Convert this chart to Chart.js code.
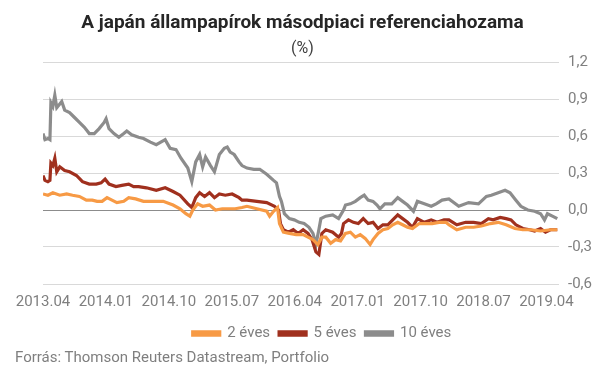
<!DOCTYPE html>
<html>
<head>
<meta charset="utf-8">
<script src="https://cdn.jsdelivr.net/npm/chart.js@4.4.1/dist/chart.umd.min.js"></script>
<style>
  html, body { margin: 0; padding: 0; background: #fff; }
  #wrap { position: relative; width: 605px; height: 378px; }
  #source { position: absolute; left: 15px; top: 348px; font-family: Roboto, sans-serif; font-size: 15px; line-height: 18px; color: #7f7f7f; }
</style>
</head>
<body>
<div id="wrap">
  <canvas id="c" width="605" height="378"></canvas>
  <div id="source">Forrás: Thomson Reuters Datastream, Portfolio</div>
</div>
<script>
const chartTitle = "A japán állampapírok másodpiaci referenciahozama";
const chartSubtitle = "(%)";
// x positions are months elapsed since 2013.04
const xTickMonths = [0, 9, 18, 27, 36, 45, 54, 63, 72];
const xTickLabels = ["2013.04", "2014.01", "2014.10", "2015.07", "2016.04", "2017.01", "2017.10", "2018.07", "2019.04"];
const yTicks = [-0.6, -0.3, 0, 0.3, 0.6, 0.9, 1.2];
const seriesNames = ["2 éves", "5 éves", "10 éves"];

const t2 = [0,0.7,1.41,2.4,3.38,4.23,5.21,6.2,7.05,7.75,8.45,9.16,9.86,10.57,11.55,12.26,13.25,14.37,15.78,17.19,18.6,19.59,20.43,21,21.42,22.12,22.83,23.81,24.66,25.64,26.63,27.48,28.46,29.17,30.58,31.99,32.41,32.97,33.54,33.82,34.38,35.23,36.21,37.2,37.9,38.61,39.31,39.88,40.44,41.14,41.85,42.55,43.26,43.96,44.67,45.37,46.07,46.78,47.2,47.91,48.61,49.32,50.02,50.73,51.43,52.13,52.84,53.82,54.81,55.66,56.64,57.63,58.05,59.18,60.45,61.58,62.7,63.97,65.1,66.23,67.49,68.62,69.75,71.16,72.57,73.55];
const v2 = [0.13,0.12,0.14,0.12,0.13,0.12,0.11,0.08,0.08,0.07,0.07,0.10,0.08,0.06,0.07,0.10,0.09,0.07,0.07,0.07,0.04,0.01,-0.03,-0.05,0.0,0.05,0.03,0.04,0.0,0.01,0.01,0.01,0.02,0.03,0.01,-0.01,-0.05,-0.01,0.02,-0.11,-0.18,-0.19,-0.20,-0.20,-0.22,-0.24,-0.28,-0.22,-0.22,-0.27,-0.24,-0.25,-0.19,-0.18,-0.22,-0.20,-0.23,-0.28,-0.24,-0.19,-0.16,-0.15,-0.12,-0.10,-0.12,-0.14,-0.15,-0.11,-0.11,-0.11,-0.10,-0.10,-0.12,-0.16,-0.14,-0.14,-0.13,-0.11,-0.10,-0.12,-0.15,-0.16,-0.16,-0.17,-0.16,-0.16];

const t5 = [0,0.28,0.7,0.99,1.13,1.41,1.69,1.97,2.4,3.1,3.8,4.79,5.64,6.62,7.61,8.31,8.88,9.44,10.43,11.27,12.26,12.96,13.67,14.8,16.2,17.47,18.6,19.59,20.71,21.28,21.84,22.4,23.11,23.81,24.52,25.22,26.07,27.05,28.04,28.46,29.17,30.58,31.99,33.11,33.68,33.96,34.38,35.09,35.79,36.49,37.2,37.9,38.47,39.03,39.45,39.88,40.44,41.43,42.27,42.69,42.98,43.68,44.39,45.09,45.8,46.5,47.2,47.91,48.61,49.32,50.02,50.73,51.43,52.13,52.84,53.54,54.53,55.52,56.36,57.35,58.05,59.18,60.45,61.58,62.7,63.69,64.39,65.38,66.23,66.93,67.63,68.62,69.61,70.31,71.16,71.86,72.57,73.55];
const v5 = [0.28,0.24,0.23,0.24,0.38,0.36,0.42,0.31,0.35,0.32,0.31,0.28,0.23,0.21,0.21,0.22,0.25,0.21,0.19,0.20,0.21,0.19,0.19,0.18,0.16,0.18,0.15,0.12,0.05,0.02,0.10,0.14,0.11,0.14,0.10,0.13,0.12,0.13,0.10,0.08,0.08,0.07,0.06,0.03,0.0,-0.11,-0.16,-0.18,-0.16,-0.19,-0.16,-0.19,-0.24,-0.34,-0.36,-0.19,-0.16,-0.18,-0.22,-0.19,-0.11,-0.08,-0.10,-0.11,-0.07,-0.11,-0.10,-0.15,-0.12,-0.12,-0.08,-0.04,-0.07,-0.10,-0.14,-0.07,-0.10,-0.08,-0.10,-0.08,-0.08,-0.12,-0.10,-0.10,-0.11,-0.07,-0.08,-0.06,-0.07,-0.08,-0.12,-0.15,-0.16,-0.17,-0.15,-0.18,-0.16,-0.16];

const t10 = [0,0.28,0.7,0.99,1.13,1.41,1.69,1.97,2.4,2.68,3.1,3.8,4.51,5.21,5.92,6.62,7.33,8.03,8.74,9.02,9.44,10.15,10.85,11.55,11.98,12.68,13.67,14.37,15.36,16.2,17.47,18.18,19.02,19.73,20.71,21.28,21.84,22.4,22.83,23.25,23.95,24.52,25.22,25.93,26.35,26.77,27.34,28.04,28.46,29.17,30.15,31,31.99,32.97,33.39,33.82,34.1,34.52,35.23,35.93,36.64,37.34,38.04,38.61,39.03,39.45,39.74,40.44,41.43,42.27,42.98,43.26,43.96,44.67,45.37,45.94,46.5,47.2,47.77,48.19,48.89,49.88,50.73,51.43,52.13,52.98,53.54,54.53,55.52,56.22,57.07,58.05,59.46,60.87,62.28,63.41,64.11,65.1,66.08,66.79,67.63,68.34,69.33,70.31,71.16,71.72,72.14,72.85,73.55];
const v10 = [0.62,0.57,0.58,0.57,0.87,0.84,0.93,0.83,0.86,0.88,0.81,0.79,0.75,0.71,0.67,0.62,0.62,0.66,0.71,0.74,0.66,0.62,0.59,0.62,0.64,0.61,0.59,0.58,0.55,0.53,0.57,0.50,0.49,0.42,0.34,0.23,0.39,0.45,0.35,0.43,0.36,0.31,0.45,0.50,0.51,0.47,0.45,0.39,0.36,0.34,0.33,0.33,0.29,0.24,0.22,0.11,0.07,-0.03,-0.07,-0.08,-0.10,-0.11,-0.14,-0.19,-0.28,-0.16,-0.07,-0.05,-0.04,-0.07,0.0,0.04,0.05,0.07,0.10,0.12,0.08,0.07,0.04,0.01,0.05,0.05,0.10,0.07,0.04,-0.01,0.07,0.05,0.03,0.05,0.08,0.09,0.03,0.06,0.05,0.11,0.12,0.14,0.16,0.14,0.08,0.03,0.0,-0.01,-0.03,-0.08,-0.03,-0.05,-0.07];

const colors = ["#f79a45", "#a0301e", "#8c8c8c"];

function pts(t, v) { return t.map((x, i) => ({ x: x, y: v[i] })); }

// Title and subtitle centred on the whole canvas width
const centeredTitle = {
  id: 'centeredTitle',
  afterDraw(chart) {
    const ctx = chart.ctx;
    const cx = chart.width / 2;
    ctx.save();
    ctx.textAlign = 'center';
    ctx.textBaseline = 'middle';
    ctx.fillStyle = '#262626';
    ctx.font = 'bold 19px Roboto';
    ctx.fillText(chartTitle, cx, 23);
    ctx.fillStyle = '#404040';
    ctx.font = '16px Roboto';
    ctx.fillText(chartSubtitle, cx, 49);
    ctx.restore();
  }
};

new Chart(document.getElementById('c'), {
  type: 'line',
  data: {
    datasets: [
      { label: seriesNames[0], data: pts(t2, v2), borderColor: colors[0], backgroundColor: colors[0], borderWidth: 3.2, pointRadius: 0, tension: 0 },
      { label: seriesNames[1], data: pts(t5, v5), borderColor: colors[1], backgroundColor: colors[1], borderWidth: 3.2, pointRadius: 0, tension: 0 },
      { label: seriesNames[2], data: pts(t10, v10), borderColor: colors[2], backgroundColor: colors[2], borderWidth: 3.2, pointRadius: 0, tension: 0 }
    ]
  },
  plugins: [centeredTitle],
  options: {
    responsive: false,
    animation: false,
    layout: { padding: { left: 43, right: 4, top: 62, bottom: 27 } },
    plugins: {
      title: { display: false },
      legend: {
        position: 'bottom',
        labels: { boxWidth: 27, boxHeight: 3.5, color: '#7f7f7f', font: { family: 'Roboto', size: 15 }, padding: 9 }
      },
      tooltip: { enabled: false }
    },
    scales: {
      x: {
        type: 'linear', min: 0, max: 73.8,
        afterBuildTicks: (s) => { s.ticks = xTickMonths.map(v => ({ value: v })); },
        afterFit: (s) => { s.height = 33; },
        ticks: { autoSkip: false, maxRotation: 0, color: '#7f7f7f', font: { family: 'Roboto', size: 15 }, padding: 9,
          callback: (val) => { const i = xTickMonths.indexOf(val); return i >= 0 ? xTickLabels[i] : ''; } },
        grid: { display: false, drawTicks: false },
        border: { display: false }
      },
      y: {
        position: 'right', min: -0.6, max: 1.2,
        afterBuildTicks: (s) => { s.ticks = yTicks.map(v => ({ value: v })); },
        ticks: { color: '#7f7f7f', font: { family: 'Roboto', size: 15 }, padding: 9,
          callback: (val) => val.toFixed(1).replace('.', ',') },
        grid: { color: (ctx) => (ctx.tick && Math.abs(ctx.tick.value) < 1e-9) ? '#8c8c8c' : '#d9d9d9', lineWidth: 1, drawTicks: false },
        border: { display: false }
      }
    }
  }
});
</script>
</body>
</html>
